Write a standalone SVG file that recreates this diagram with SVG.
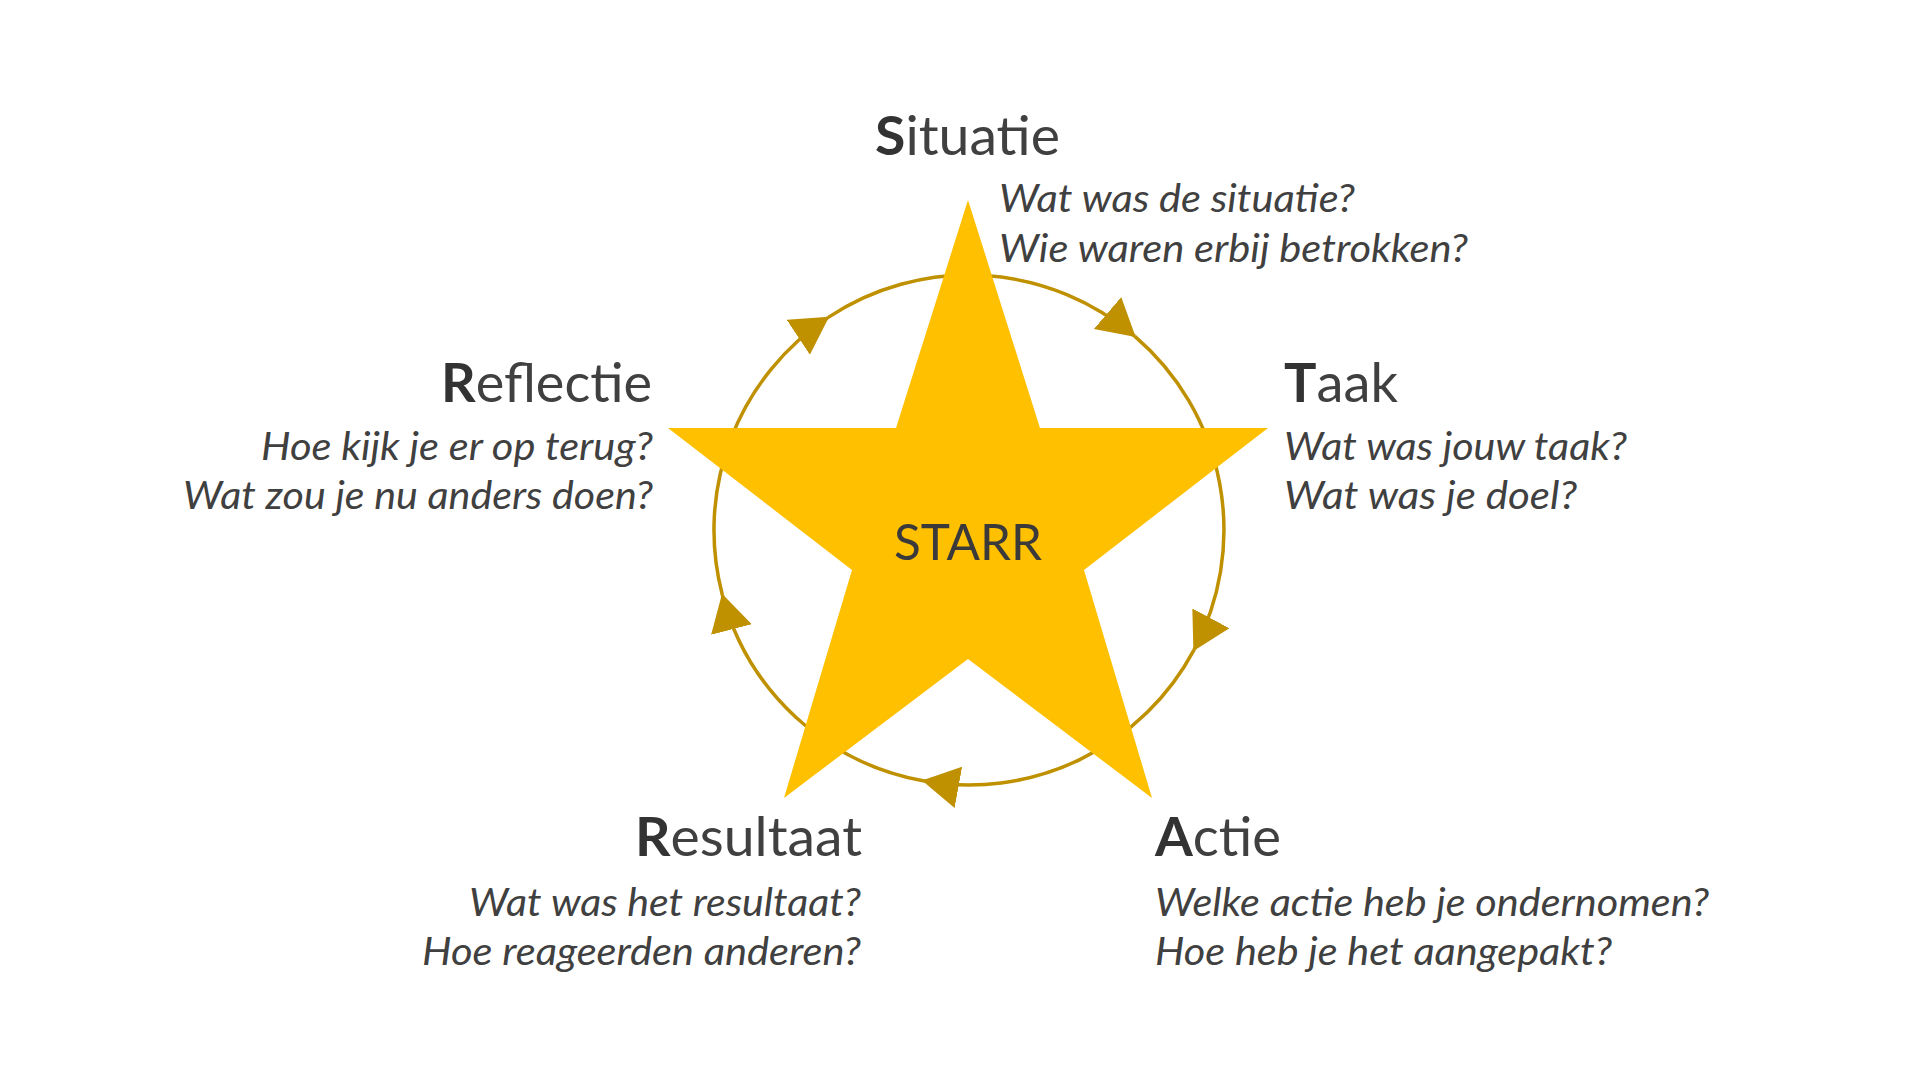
<svg xmlns="http://www.w3.org/2000/svg" width="1920" height="1080" viewBox="0 0 1920 1080">
<defs>
<style>
.title{font-family:Lato,"Open Sans","Liberation Sans",sans-serif;font-size:54px;fill:#404040}
.ini{font-weight:700;fill:#333333}
.q{font-family:Lato,"Open Sans","Liberation Sans",sans-serif;font-size:38px;font-style:italic;fill:#404040}
.end{text-anchor:end}
.arc{fill:none;stroke:#BF9000;stroke-width:3.5;marker-end:url(#arrow)}
.star{fill:#FFC000}
.center{font-family:Lato,"Open Sans","Liberation Sans",sans-serif;font-size:50px;fill:#3a3a3a;text-anchor:middle}
</style>
<marker id="arrow" markerUnits="userSpaceOnUse" viewBox="0 0 37 42" refX="36" refY="21" markerWidth="37" markerHeight="42" orient="auto">
<path d="M0,0 L37,21 L0,42 Z" fill="#BF9000"/>
</marker>
</defs>
<rect width="1920" height="1080" fill="#ffffff"/>
<g id="connectors">
<path class="arc" d="M828.3,317.4 A255,255 0 0 1 1134.9,336.4"/>
<path class="arc" d="M1134.9,336.4 A255,255 0 0 1 1193.9,650.1"/>
<path class="arc" d="M1193.9,650.1 A255,255 0 0 1 923.0,780.8"/>
<path class="arc" d="M923.0,780.8 A255,255 0 0 1 722.3,594.7"/>
<path class="arc" d="M722.3,594.7 A255,255 0 0 1 828.3,317.4"/>
</g>
<g id="node-starr">
<polygon class="star" points="968,200 1040,428 1268,428 1084,570 1152,798 968,659 784,798 852,570 668,428 896,428"/>
<text class="center" x="968" y="560" textLength="148" lengthAdjust="spacingAndGlyphs">STARR</text>
</g>
<g id="node-situatie">
<text class="title" x="875" y="155" textLength="185" lengthAdjust="spacingAndGlyphs"><tspan class="ini">S</tspan>ituatie</text>
<text class="q" x="999" y="212" textLength="356" lengthAdjust="spacingAndGlyphs">Wat was de situatie?</text>
<text class="q" x="999" y="262" textLength="469" lengthAdjust="spacingAndGlyphs">Wie waren erbij betrokken?</text>
</g>
<g id="node-taak">
<text class="title" x="1284" y="402" textLength="114" lengthAdjust="spacingAndGlyphs"><tspan class="ini">T</tspan>aak</text>
<text class="q" x="1284" y="460" textLength="343" lengthAdjust="spacingAndGlyphs">Wat was jouw taak?</text>
<text class="q" x="1284" y="509" textLength="293" lengthAdjust="spacingAndGlyphs">Wat was je doel?</text>
</g>
<g id="node-actie">
<text class="title" x="1155" y="856" textLength="126" lengthAdjust="spacingAndGlyphs"><tspan class="ini">A</tspan>ctie</text>
<text class="q" x="1155" y="916" textLength="554" lengthAdjust="spacingAndGlyphs">Welke actie heb je ondernomen?</text>
<text class="q" x="1155" y="965" textLength="457" lengthAdjust="spacingAndGlyphs">Hoe heb je het aangepakt?</text>
</g>
<g id="node-resultaat">
<text class="title end" x="862" y="856" textLength="227" lengthAdjust="spacingAndGlyphs"><tspan class="ini">R</tspan>esultaat</text>
<text class="q end" x="861" y="916" textLength="392" lengthAdjust="spacingAndGlyphs">Wat was het resultaat?</text>
<text class="q end" x="861" y="965" textLength="439" lengthAdjust="spacingAndGlyphs">Hoe reageerden anderen?</text>
</g>
<g id="node-reflectie">
<text class="title end" x="652" y="402" textLength="211" lengthAdjust="spacingAndGlyphs"><tspan class="ini">R</tspan>eflectie</text>
<text class="q end" x="653" y="460" textLength="392" lengthAdjust="spacingAndGlyphs">Hoe kijk je er op terug?</text>
<text class="q end" x="653" y="509" textLength="470" lengthAdjust="spacingAndGlyphs">Wat zou je nu anders doen?</text>
</g>
</svg>
